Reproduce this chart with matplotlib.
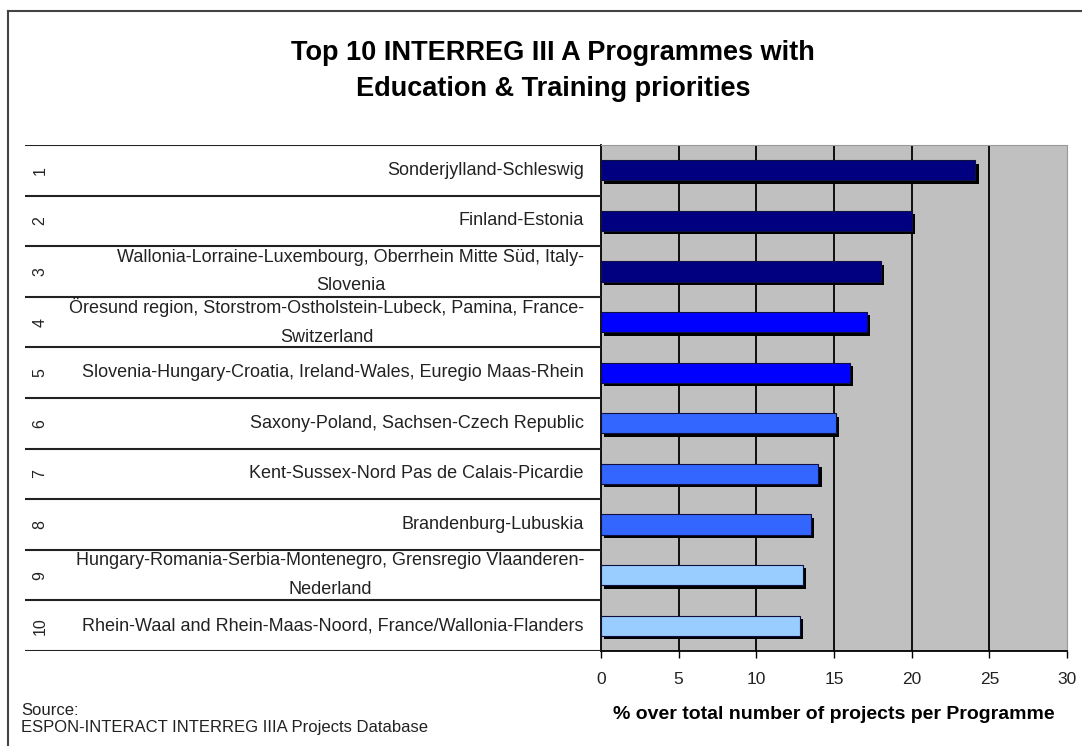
import matplotlib
matplotlib.use("Agg")
import matplotlib.pyplot as plt
from matplotlib import patheffects as pe
from matplotlib.lines import Line2D

# data
ranks = ['1', '2', '3', '4', '5', '6', '7', '8', '9', '10']
programmes = [
    'Sonderjylland-Schleswig',
    'Finland-Estonia',
    'Wallonia-Lorraine-Luxembourg, Oberrhein Mitte Süd, Italy-\nSlovenia',
    'Öresund region, Storstrom-Ostholstein-Lubeck, Pamina, France-\nSwitzerland',
    'Slovenia-Hungary-Croatia, Ireland-Wales, Euregio Maas-Rhein',
    'Saxony-Poland, Sachsen-Czech Republic',
    'Kent-Sussex-Nord Pas de Calais-Picardie',
    'Brandenburg-Lubuskia',
    'Hungary-Romania-Serbia-Montenegro, Grensregio Vlaanderen-\nNederland',
    'Rhein-Waal and Rhein-Maas-Noord, France/Wallonia-Flanders',
]
values = [24.1, 20.0, 18.0, 17.1, 16.0, 15.1, 14.0, 13.5, 13.0, 12.8]
bar_colors = ['#000080', '#000080', '#000080', '#0000FF', '#0000FF',
              '#3366FF', '#3366FF', '#3366FF', '#99CCFF', '#99CCFF']
xticks = [0, 5, 10, 15, 20, 25, 30]

W, H = 1082, 746
plt.rcParams['font.family'] = ['Liberation Sans', 'DejaVu Sans']
fig = plt.figure(figsize=(W / 100, H / 100), dpi=100)
fig.patch.set_facecolor('white')

# outer chart frame (top and left edges visible)
fig.add_artist(Line2D([8 / W, 1], [1 - 11 / H, 1 - 11 / H], transform=fig.transFigure,
                      color='#444444', lw=1.5))
fig.add_artist(Line2D([8 / W, 8 / W], [0, 1 - 11 / H], transform=fig.transFigure,
                      color='#444444', lw=1.5))

top, bottom = 145, 651
left, right = 601, 1067
ax = fig.add_axes([left / W, 1 - bottom / H, (right - left) / W, (bottom - top) / H])
ax.set_facecolor('#C0C0C0')

y = list(range(len(values)))
bars = ax.barh(y, values, height=0.4, color=bar_colors, edgecolor='#101040', linewidth=0.8,
               zorder=3)
for b in bars:
    b.set_path_effects([pe.SimplePatchShadow(offset=(2.5, -2.5), shadow_rgbFace='black',
                                             alpha=1.0), pe.Normal()])

for t in xticks[1:-1]:
    ax.axvline(t, color='black', lw=1.3, zorder=1)

ax.set_xlim(0, 30)
ax.set_ylim(len(values) - 0.5, -0.5)
ax.set_xticks(xticks)
ax.set_xticklabels([str(t) for t in xticks], fontsize=12.5, color='#222222')
ax.set_yticks([])
ax.tick_params(axis='x', direction='out', length=5, width=1, pad=10)
ax.spines['top'].set_color('#999999')
ax.spines['right'].set_color('#999999')
ax.spines['left'].set_linewidth(1.3)
ax.spines['bottom'].set_linewidth(1.3)
ax.set_xlabel('% over total number of projects per Programme', fontsize=14,
              fontweight='bold', labelpad=14)

# table on the left
tab_left = 25
axt = fig.add_axes([tab_left / W, 1 - bottom / H, (left - tab_left) / W, (bottom - top) / H],
                   sharey=ax)
axt.set_xlim(0, left - tab_left)
axt.axis('off')
for k in range(len(values) + 1):
    axt.axhline(k - 0.5, color='#222222', lw=1.5)
for i, (r, p) in enumerate(zip(ranks, programmes)):
    axt.text(15, i, r, rotation=90, ha='center', va='center', fontsize=11.5, color='#222222')
    axt.text(559, i, p, ha='right', va='center', multialignment='center', fontsize=13,
             color='#222222', linespacing=1.9)

fig.text(553 / W, 1 - 70.5 / H, 'Top 10 INTERREG III A Programmes with\nEducation & Training priorities',
         ha='center', va='center', fontsize=19.5, fontweight='bold', linespacing=1.5)

fig.text(21 / W, 1 - 719 / H, 'Source:\nESPON-INTERACT INTERREG IIIA Projects Database',
         ha='left', va='center', fontsize=12, color='#222222', linespacing=1.2)

fig.savefig('out.png', dpi=100)
